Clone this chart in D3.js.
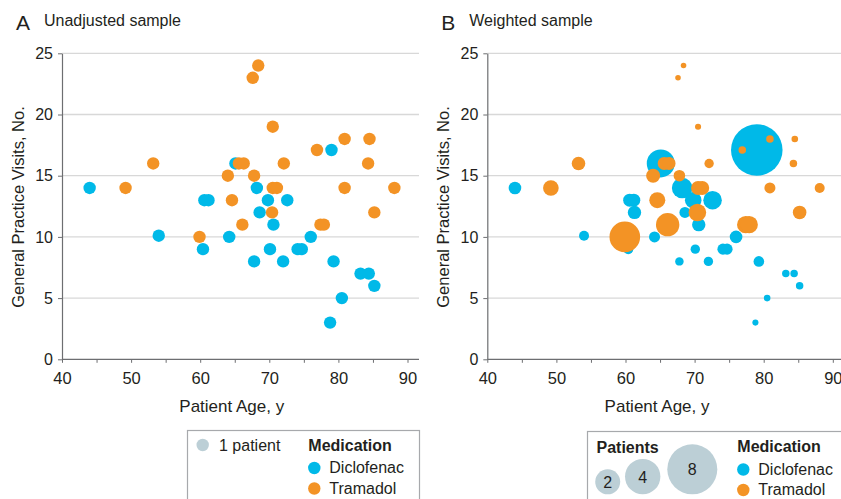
<!DOCTYPE html>
<html>
<head>
<meta charset="utf-8">
<script src="https://cdn.jsdelivr.net/npm/d3@7"></script>
<style>
  body { margin: 0; background: #fff; }
  svg text { font-family: "Liberation Sans", Arial, sans-serif; fill: #231f20; }
</style>
</head>
<body>
<svg id="chart" width="841" height="499"></svg>
<script>
// [age, visits, weight in the weighted sample]
var diclofenac = [
  [44.0, 14, 0.51], [54.0, 10.1, 0.32], [60.6, 13, 0.54], [61.2, 13, 0.54], [60.4, 9, 0.32],
  [64.2, 10, 0.39], [65.1, 16, 2.5], [68.2, 14, 1.36], [68.6, 12, 0.39], [67.8, 8, 0.23],
  [69.8, 13, 0.88], [70.6, 11, 0.57], [70.1, 9, 0.28], [72.0, 8, 0.28], [72.6, 13, 1.1],
  [74.1, 9, 0.39], [74.7, 9, 0.39], [76.0, 10, 0.51], [79.0, 17.1, 8.5], [79.3, 8, 0.36],
  [78.8, 3, 0.12], [80.5, 5, 0.14], [83.2, 7, 0.18], [84.4, 7, 0.18], [85.2, 6, 0.18]
];
var diclofenacWeightedOnly = [[61.3, 12, 0.57]];
var tramadol = [
  [49.2, 14, 0.78], [53.2, 16, 0.59], [59.9, 10, 3.0], [64.0, 15, 0.63], [64.6, 13, 0.82],
  [65.6, 16, 0.54], [66.3, 16, 0.54], [66.1, 11, 1.75], [67.6, 23, 0.1], [68.4, 24, 0.1],
  [67.8, 15, 0.43], [70.5, 19, 0.12], [70.4, 12, 0.99], [70.5, 14, 0.63], [71.1, 14, 0.63],
  [72.1, 16, 0.28], [76.9, 17.1, 0.18], [77.4, 11, 0.97], [77.9, 11, 0.97], [80.9, 18, 0.18],
  [80.9, 14, 0.39], [84.5, 18, 0.14], [84.3, 16, 0.18], [85.2, 12, 0.59], [88.1, 14, 0.32]
];
var medications = ['Diclofenac', 'Tramadol'];
var xTicks = [40, 45, 50, 55, 60, 65, 70, 75, 80, 85, 90];
var yTicks = [0, 5, 10, 15, 20, 25];
var legendPatients = [2, 4, 8];

var colors = {Diclofenac: '#00b9e8', Tramadol: '#f39325'};
var svg = d3.select('#chart');

var y = d3.scaleLinear().domain([0, 25]).range([359.3, 53.3]);
var r = d3.scaleSqrt().domain([0, 8]).range([0, 25]);

function panel(opts) {
  var x = d3.scaleLinear().domain([40, 90]).range([opts.left, opts.left + 345.5]);
  var g = svg.append('g');

  g.append('text').attr('x', opts.left - 46).attr('y', 30)
   .style('font-size', '21px').text(opts.letter);
  g.append('text').attr('x', opts.left - 18).attr('y', 26)
   .style('font-size', '16px').text(opts.title);

  g.selectAll('.grid')
   .data(yTicks.filter(function(d){return d > 0;}))
   .enter().append('line')
   .attr('x1', opts.left).attr('x2', opts.right)
   .attr('y1', function(d){return y(d);}).attr('y2', function(d){return y(d);})
   .style('stroke', '#d8d8d8').style('stroke-width', 1.3);

  var xa = g.append('g').attr('transform', 'translate(0,' + y(0) + ')')
   .call(d3.axisBottom(x).tickValues(xTicks).tickSize(3.5)
     .tickFormat(function(d){return d % 10 === 0 ? d : '';}));
  xa.select('.domain').remove();
  xa.selectAll('line').style('stroke', '#6d6e71');
  xa.selectAll('text').attr('y', 25).attr('dy', null).style('font-size', '16.5px');
  g.append('line').attr('x1', opts.left).attr('x2', opts.right)
   .attr('y1', y(0)).attr('y2', y(0)).style('stroke', '#6d6e71').style('stroke-width', 1.2);

  var ya = g.append('g').attr('transform', 'translate(' + opts.left + ',0)')
   .call(d3.axisLeft(y).tickValues(yTicks).tickSize(4).tickSizeOuter(0));
  ya.select('.domain').style('stroke', '#6d6e71').style('stroke-width', 1.2);
  ya.selectAll('line').style('stroke', '#6d6e71');
  ya.selectAll('text').attr('x', -9).style('font-size', '16px');

  g.append('text')
   .attr('transform', 'translate(' + (opts.left - 38) + ',' + 207 + ') rotate(-90)')
   .attr('text-anchor', 'middle').style('font-size', '16.5px')
   .text('General Practice Visits, No.');
  g.append('text').attr('x', x(65) - 3).attr('y', 411.5)
   .attr('text-anchor', 'middle').style('font-size', '17px').text('Patient Age, y');

  medications.forEach(function(m) {
    var pts = opts.data[m].slice();
    if (opts.weighted) pts.sort(function(a, b){return b[2] - a[2];});
    g.append('g').selectAll('circle')
     .data(pts).enter().append('circle')
     .attr('cx', function(d){return x(d[0]);})
     .attr('cy', function(d){return y(d[1]);})
     .attr('r', function(d){return opts.weighted ? r(d[2]) : 6.2;})
     .style('fill', colors[m]);
  });
}

panel({left: 62, right: 419, letter: 'A', title: 'Unadjusted sample', weighted: false,
       data: {Diclofenac: diclofenac, Tramadol: tramadol}});
panel({left: 487.3, right: 841, letter: 'B', title: 'Weighted sample', weighted: true,
       data: {Diclofenac: diclofenac.concat(diclofenacWeightedOnly), Tramadol: tramadol}});

// legend boxes
function medLegend(g, lx, ty) {
  g.append('text').attr('x', lx - 6).attr('y', ty).style('font-size', '16px')
   .style('font-weight', 'bold').text('Medication');
  g.selectAll('.med').data(medications).enter().append('circle')
   .attr('cx', lx).attr('cy', function(d, i){return ty + 17.5 + i * 20.5;}).attr('r', 6.2)
   .style('fill', function(d){return colors[d];});
  g.selectAll('.medt').data(medications).enter().append('text')
   .attr('x', lx + 15).attr('y', function(d, i){return ty + 22.5 + i * 20.5;})
   .style('font-size', '16px').text(function(d){return d;});
}

var la = svg.append('g');
la.append('rect').attr('x', 187.5).attr('y', 430.5).attr('width', 232).attr('height', 80)
  .style('fill', 'none').style('stroke', '#a7a9ac').style('stroke-width', 1.2);
la.append('circle').attr('cx', 202.7).attr('cy', 445).attr('r', 6.2).style('fill', '#bccfd6');
la.append('text').attr('x', 219).attr('y', 450.5).style('font-size', '16px').text('1 patient');
medLegend(la, 314.3, 450.5);

var lb = svg.append('g');
lb.append('rect').attr('x', 587.5).attr('y', 431.5).attr('width', 260).attr('height', 80)
  .style('fill', 'none').style('stroke', '#a7a9ac').style('stroke-width', 1.2);
lb.append('text').attr('x', 596.5).attr('y', 452.5).style('font-size', '16px')
  .style('font-weight', 'bold').text('Patients');
var px = d3.scalePoint().domain(legendPatients).range([607.7, 692.3]);
var cx = {2: 607.7, 4: 642.7, 8: 692.3};
lb.selectAll('.pc').data(legendPatients).enter().append('circle')
  .attr('cx', function(d){return cx[d];}).attr('cy', function(d){return 494.3 - r(d);})
  .attr('r', function(d){return r(d);}).style('fill', '#bccfd6');
lb.selectAll('.pt').data(legendPatients).enter().append('text')
  .attr('x', function(d){return cx[d];}).attr('y', function(d){return 494.3 - r(d) + 6;})
  .attr('text-anchor', 'middle').style('font-size', '16px').text(function(d){return d;});
medLegend(lb, 743.3, 452);
</script>
</body>
</html>
